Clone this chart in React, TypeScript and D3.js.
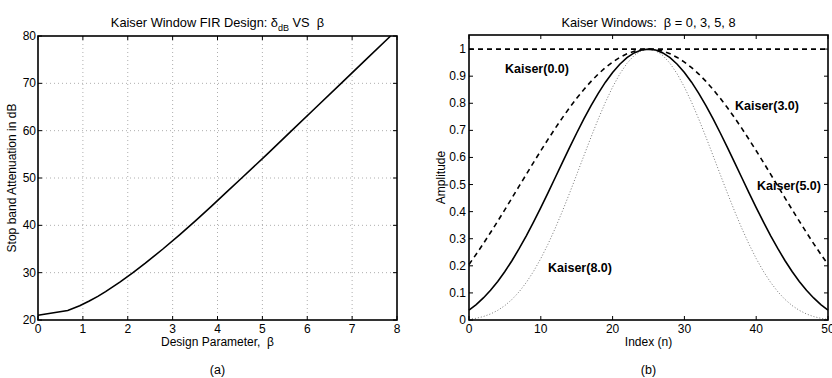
import React from "react";
import * as d3 from "d3";

// Left panel: stop-band attenuation (dB) vs Kaiser beta
const attenDb = [21, 22, 23, 24, 25, 26, 28, 30, 32, 35, 38, 41, 44, 47, 50, 55, 60, 65, 70, 75, 80];
const betaParam = [0, 0.663, 0.929, 1.143, 1.333, 1.506, 1.824, 2.117, 2.392, 2.783, 3.155, 3.514, 3.862, 4.201, 4.54, 5.102, 5.653, 6.204, 6.755, 7.306, 7.857];
const leftXTicks = [0, 1, 2, 3, 4, 5, 6, 7, 8];
const leftYTicks = [20, 30, 40, 50, 60, 70, 80];

// Right panel: Kaiser windows, n = 0..50
const kaiser0 = [1, 1, 1, 1, 1, 1, 1, 1, 1, 1, 1, 1, 1, 1, 1, 1, 1, 1, 1, 1, 1, 1, 1, 1, 1, 1, 1, 1, 1, 1, 1, 1, 1, 1, 1, 1, 1, 1, 1, 1, 1, 1, 1, 1, 1, 1, 1, 1, 1, 1, 1];
const kaiser3 = [0.2049, 0.2427, 0.282, 0.3229, 0.3648, 0.4076, 0.4511, 0.4948, 0.5385, 0.582, 0.6248, 0.6666, 0.7072, 0.7462, 0.7834, 0.8184, 0.851, 0.8809, 0.9079, 0.9317, 0.9522, 0.9692, 0.9826, 0.9923, 0.9981, 1, 0.9981, 0.9923, 0.9826, 0.9692, 0.9522, 0.9317, 0.9079, 0.8809, 0.851, 0.8184, 0.7834, 0.7462, 0.7072, 0.6666, 0.6248, 0.582, 0.5385, 0.4948, 0.4511, 0.4076, 0.3648, 0.3229, 0.282, 0.2427, 0.2049];
const kaiser5 = [0.0367, 0.057, 0.0814, 0.1098, 0.1425, 0.1792, 0.2198, 0.2641, 0.3117, 0.3621, 0.4149, 0.4695, 0.525, 0.5809, 0.6362, 0.6903, 0.7423, 0.7914, 0.8368, 0.8779, 0.9139, 0.9442, 0.9682, 0.9858, 0.9964, 1, 0.9964, 0.9858, 0.9682, 0.9442, 0.9139, 0.8779, 0.8368, 0.7914, 0.7423, 0.6903, 0.6362, 0.5809, 0.525, 0.4695, 0.4149, 0.3621, 0.3117, 0.2641, 0.2198, 0.1792, 0.1425, 0.1098, 0.0814, 0.057, 0.0367];
const kaiser8 = [0.0023, 0.0063, 0.0127, 0.0223, 0.0356, 0.0533, 0.0762, 0.1047, 0.1392, 0.1799, 0.2268, 0.2797, 0.3381, 0.4011, 0.4677, 0.5366, 0.6063, 0.6753, 0.7417, 0.8038, 0.8598, 0.9082, 0.9474, 0.9763, 0.994, 1, 0.994, 0.9763, 0.9474, 0.9082, 0.8598, 0.8038, 0.7417, 0.6753, 0.6063, 0.5366, 0.4677, 0.4011, 0.3381, 0.2797, 0.2268, 0.1799, 0.1392, 0.1047, 0.0762, 0.0533, 0.0356, 0.0223, 0.0127, 0.0063, 0.0023];
const rightXTicks = [0, 10, 20, 30, 40, 50];
const rightYTicks = [0, 0.1, 0.2, 0.3, 0.4, 0.5, 0.6, 0.7, 0.8, 0.9, 1];

const FONT = "'Liberation Sans', Arial, Helvetica, sans-serif";
const TICK = 4;

export default function App() {
  // left panel scales
  const lx = d3.scaleLinear().domain([0, 8]).range([38, 397]);
  const ly = d3.scaleLinear().domain([20, 80]).range([320, 36]);
  const leftLine = d3
    .line<number>()
    .x((_, i) => lx(betaParam[i]))
    .y((d) => ly(d));

  // right panel scales
  const rx = d3.scaleLinear().domain([0, 50]).range([469, 828]);
  const ry = d3.scaleLinear().domain([0, 1.052]).range([320, 35]);
  const winLine = d3
    .line<number>()
    .x((_, i) => rx(i))
    .y((d) => ry(d));

  const lTop = ly(80), lBot = ly(20), lL = lx(0), lR = lx(8);
  const rTop = ry(1.052), rBot = ry(0), rL = rx(0), rR = rx(50);

  return (
    <svg width={832} height={378} style={{ display: "block", position: "absolute", left: 0, top: 0 }} fontFamily={FONT}>
      <rect width={832} height={378} fill="#fff" />

      {/* ===== Left panel ===== */}
      <g>
        {leftXTicks.slice(1, -1).map((t) => (
          <line key={"lgx" + t} x1={lx(t)} x2={lx(t)} y1={lTop} y2={lBot} stroke="#999" strokeWidth={0.8} strokeDasharray="1,3" />
        ))}
        {leftYTicks.slice(1, -1).map((t) => (
          <line key={"lgy" + t} x1={lL} x2={lR} y1={ly(t)} y2={ly(t)} stroke="#999" strokeWidth={0.8} strokeDasharray="1,3" />
        ))}
        {leftXTicks.map((t) => (
          <g key={"lxt" + t}>
            <line x1={lx(t)} x2={lx(t)} y1={lBot} y2={lBot - TICK} stroke="#000" />
            <line x1={lx(t)} x2={lx(t)} y1={lTop} y2={lTop + TICK} stroke="#000" />
            <text x={lx(t)} y={lBot + 13} textAnchor="middle" fontSize={12}>{t}</text>
          </g>
        ))}
        {leftYTicks.map((t) => (
          <g key={"lyt" + t}>
            <line x1={lL} x2={lL + TICK} y1={ly(t)} y2={ly(t)} stroke="#000" />
            <line x1={lR} x2={lR - TICK} y1={ly(t)} y2={ly(t)} stroke="#000" />
            <text x={lL - 2} y={ly(t) + 4} textAnchor="end" fontSize={12}>{t}</text>
          </g>
        ))}
        <path d={leftLine(attenDb) || ""} fill="none" stroke="#000" strokeWidth={1.6} />
        <rect x={lL} y={lTop} width={lR - lL} height={lBot - lTop} fill="none" stroke="#000" strokeWidth={1.6} />
        <text x={(lL + lR) / 2} y={27} textAnchor="middle" fontSize={12.8} xmlSpace="preserve">
          Kaiser Window FIR Design: δ<tspan fontSize={9} dy={4}>dB</tspan>
          <tspan dy={-4}> VS  β</tspan>
        </text>
        <text x={(lL + lR) / 2} y={346} textAnchor="middle" fontSize={12} xmlSpace="preserve">Design Parameter,  β</text>
        <text transform={`translate(16,${(lTop + lBot) / 2}) rotate(-90)`} textAnchor="middle" fontSize={12}>Stop band Attenuation in dB</text>
        <text x={(lL + lR) / 2} y={374} textAnchor="middle" fontSize={12.5}>(a)</text>
      </g>

      {/* ===== Right panel ===== */}
      <g>
        {rightXTicks.map((t) => (
          <g key={"rxt" + t}>
            <line x1={rx(t)} x2={rx(t)} y1={rBot} y2={rBot - TICK} stroke="#000" />
            <line x1={rx(t)} x2={rx(t)} y1={rTop} y2={rTop + TICK} stroke="#000" />
            <text x={rx(t)} y={rBot + 13} textAnchor="middle" fontSize={12}>{t}</text>
          </g>
        ))}
        {rightYTicks.map((t) => (
          <g key={"ryt" + t}>
            <line x1={rL} x2={rL + TICK} y1={ry(t)} y2={ry(t)} stroke="#000" />
            <line x1={rR} x2={rR - TICK} y1={ry(t)} y2={ry(t)} stroke="#000" />
            <text x={rL - 3} y={ry(t) + 4} textAnchor="end" fontSize={12}>{t}</text>
          </g>
        ))}
        <path d={winLine(kaiser8) || ""} fill="none" stroke="#777" strokeWidth={1} strokeDasharray="1,2" />
        <path d={winLine(kaiser5) || ""} fill="none" stroke="#000" strokeWidth={1.6} />
        <path d={winLine(kaiser3) || ""} fill="none" stroke="#000" strokeWidth={1.6} strokeDasharray="5,4" />
        <path d={winLine(kaiser0) || ""} fill="none" stroke="#000" strokeWidth={1.6} strokeDasharray="5,4" />
        <rect x={rL} y={rTop} width={rR - rL} height={rBot - rTop} fill="none" stroke="#000" strokeWidth={1.6} />

        <text x={505} y={73} fontSize={12.5} fontWeight="bold">Kaiser(0.0)</text>
        <text x={735} y={110} fontSize={12.5} fontWeight="bold">Kaiser(3.0)</text>
        <text x={757} y={190} fontSize={12.5} fontWeight="bold">Kaiser(5.0)</text>
        <text x={548} y={272} fontSize={12.5} fontWeight="bold">Kaiser(8.0)</text>

        <text x={(rL + rR) / 2} y={27} textAnchor="middle" fontSize={12.8} xmlSpace="preserve">Kaiser Windows:  β = 0, 3, 5, 8</text>
        <text x={(rL + rR) / 2} y={346} textAnchor="middle" fontSize={12}>Index (n)</text>
        <text transform={`translate(445,${(rTop + rBot) / 2}) rotate(-90)`} textAnchor="middle" fontSize={12}>Amplitude</text>
        <text x={(rL + rR) / 2} y={374} textAnchor="middle" fontSize={12.5}>(b)</text>
      </g>
    </svg>
  );
}
